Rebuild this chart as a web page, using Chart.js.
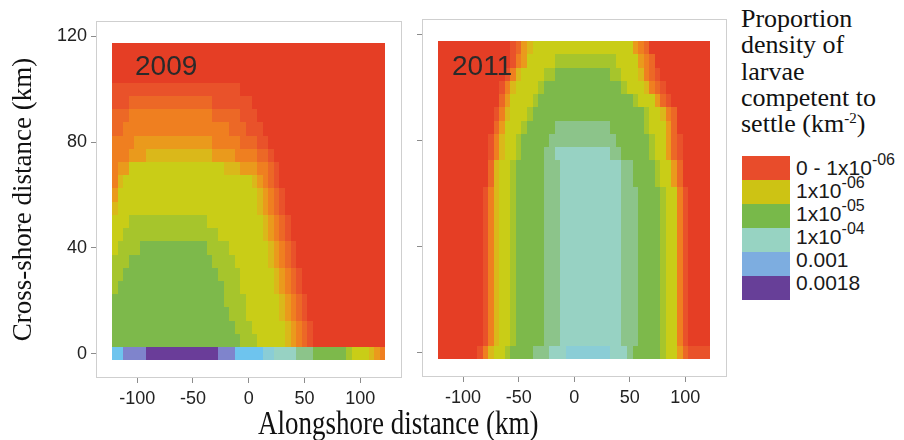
<!DOCTYPE html>
<html>
<head>
<meta charset="utf-8">
<script src="https://cdn.jsdelivr.net/npm/chart.js@4.4.1/dist/chart.umd.min.js"></script>
<style>
  body { margin: 0; background: #fff; }
  #wrap { position: relative; width: 904px; height: 440px; overflow: hidden; background: #fff; }
  #wrap canvas { position: absolute; top: 0; }
  #map2009 { left: 0; }
  #map2011 { left: 412px; }
  #xTitle { position: absolute; left: 258px; top: 412px; font: 27px 'Liberation Serif', 'Times New Roman', serif;
            line-height: 27px; white-space: nowrap; color: #111; transform: scaleY(1.22); transform-origin: 0 23px; }
  #legendTitle { position: absolute; left: 741px; top: 6px; font: 26px 'Liberation Serif', 'Times New Roman', serif;
                 line-height: 26.3px; color: #111; }
  #legendTitle sup { font-size: 15px; vertical-align: 0; position: relative; top: -9px; }
  .swatch { position: absolute; left: 742px; width: 48px; height: 24px; }
  .lab { position: absolute; left: 796px; font: 21px 'Liberation Sans', Arial, sans-serif; line-height: 21px;
         color: #1a1a1a; white-space: nowrap; }
  .lab span { font-size: 16px; position: relative; top: -10px; }
</style>
</head>
<body>
<div id="wrap">
  <canvas id="map2009" width="412" height="440"></canvas>
  <canvas id="map2011" width="320" height="440"></canvas>
  <div id="xTitle">Alongshore distance (km)</div>
  <div id="legendTitle">Proportion<br>density of<br>larvae<br>competent to<br>settle (km<sup>-2</sup>)</div>
</div>
<script>
// cell centres (km)
const xCenters = [-120, -115, -110, -105, -100, -95, -90, -85, -80, -75, -70, -65, -60, -55, -50, -45, -40,
  -35, -30, -25, -20, -15, -10, -5, 0, 5, 10, 15, 20, 25, 30, 35, 40, 45, 50, 55, 60, 65, 70, 75, 80, 85,
  90, 95, 100, 105, 110, 115, 120];
const yCenters = [0, 5, 10, 15, 20, 25, 30, 35, 40, 45, 50, 55, 60, 65, 70, 75, 80, 85, 90, 95, 100, 105, 110, 115];

// colour level of each cell, one string per row (first string = 0 km), one char per column
// 0 = red ... 6 = yellow, 8 = green, a = teal, c = light blue, e = purple
const density2009 = [
  'ccddddeeee eeeeeeeeed ddcccccbba aaa9998888 887666543',
  '8888888888 8888888888 8887776666 6543210000 000000000',
  '8888888888 8888888888 8877766666 6543210000 000000000',
  '8888888888 8888888888 8777666666 5432100000 000000000',
  '8888888888 8888888888 7777666666 5432100000 000000000',
  '7888888888 8888888888 7776666665 4321000000 000000000',
  '7788888888 8888888887 7776666665 4321000000 000000000',
  '7778888888 8888888877 7766666654 3210000000 000000000',
  '6777788888 8888888777 7666666654 3210000000 000000000',
  '6677777777 7777777776 6666666543 2100000000 000000000',
  '6667777777 7777777666 6666666543 2100000000 000000000',
  '5666666666 6666666666 6666665432 1000000000 000000000',
  '4666666666 6666666666 6666665432 1000000000 000000000',
  '3566666666 6666666666 6666654321 0000000000 000000000',
  '3446666666 6666666666 5554443321 0000000000 000000000',
  '3334445555 5555555544 4433332210 0000000000 000000000',
  '3333444444 4444444433 3332221100 0000000000 000000000',
  '2233333333 3333333333 3222111000 0000000000 000000000',
  '2223333333 3333333322 2221110000 0000000000 000000000',
  '1112222222 2222222211 1111100000 0000000000 000000000',
  '1111111111 1111111111 1110000000 0000000000 000000000',
  '0000000000 0000000000 0000000000 0000000000 000000000',
  '0000000000 0000000000 0000000000 0000000000 000000000',
  '0000000000 0000000000 0000000000 0000000000 000000000'
];
const density2011 = [
  '0000000135 6678888999 aaabbbbbbb baaa988888 766421111',
  '0000000013 5667888889 99aaaaaaaa aaa9998888 766310000',
  '0000000013 5667888889 99aaaaaaaa aaa9998888 766310000',
  '0000000013 5667888889 99aaaaaaaa aaa9998888 766310000',
  '0000000013 5667888889 99aaaaaaaa aaa9998888 766310000',
  '0000000013 5667888889 99aaaaaaaa aaa9998888 766310000',
  '0000000013 5667888889 99aaaaaaaa aaa9998888 766310000',
  '0000000013 5667888889 99aaaaaaaa aaa9998888 766310000',
  '0000000013 5667888889 99aaaaaaaa aaa9998888 766310000',
  '0000000013 5667888889 99aaaaaaaa aaa9998888 766310000',
  '0000000013 5667888889 99aaaaaaaa aaa9998888 766310000',
  '0000000013 5667888889 99aaaaaaaa aaa9998888 766310000',
  '0000000013 5667888889 99aaaaaaaa aaa9998888 766310000',
  '0000000002 5667888889 99aaaaaaaa aaa9988887 664200000',
  '0000000002 5667888889 99aaaaaaaa aaa9988887 664200000',
  '0000000001 3566788889 9aaaaaaaaa a998888876 642100000',
  '0000000001 3566788888 9999999999 9988888876 642100000',
  '0000000000 2466678888 8999999999 9888888766 642000000',
  '0000000000 1356667888 8888888888 8888888766 532000000',
  '0000000000 0246666788 8888888888 8888876664 210000000',
  '0000000000 0135666678 8888888888 8887666532 100000000',
  '0000000000 0013566667 7888888888 8776665321 000000000',
  '0000000000 0001346666 6777777777 7766664320 000000000',
  '0000000000 0001245666 6666666666 6666643200 000000000'
];

const levelColors = ['#e53e25', '#e9522a', '#ec6826', '#ef7f20', '#ea9a1c', '#dab81a', '#c9cd17', '#a6c52c',
  '#7db94b', '#8cc48a', '#97d2c3', '#8acdd6', '#6ec4ee', '#7f84cc', '#6a3d99'];

const xTicks = [-100, -50, 0, 50, 100];
const yTicks = [0, 40, 80, 120];

const legendColors = ['#e84c2b', '#cdc314', '#78b94a', '#97d3c2', '#7dade0', '#673f98'];
const legendLabels = ['0 - 1x10', '1x10', '1x10', '1x10', '0.001', '0.0018'];
const legendPowers = ['-06', '-06', '-05', '-04', '', ''];

// legend
const wrap = document.getElementById('wrap');
legendColors.forEach((c, i) => {
  const sw = document.createElement('div');
  sw.className = 'swatch';
  sw.style.top = (156 + 24 * i) + 'px';
  sw.style.background = c;
  wrap.appendChild(sw);
  const lab = document.createElement('div');
  lab.className = 'lab';
  lab.style.top = (157 + 23 * i) + 'px';
  lab.textContent = legendLabels[i];
  if (legendPowers[i]) {
    const sp = document.createElement('span');
    sp.textContent = legendPowers[i];
    lab.appendChild(sp);
  }
  wrap.appendChild(lab);
});

function toCells(rows) {
  const cells = [];
  rows.forEach((row, j) => {
    const r = row.replace(/ /g, '');
    if (r.length !== xCenters.length) console.error('row', j, 'has', r.length, 'cells');
    for (let i = 0; i < r.length; i++) {
      cells.push({ x: xCenters[i], y: yCenters[j], v: parseInt(r[i], 36) });
    }
  });
  return cells;
}

const heatCells = {
  id: 'heatCells',
  beforeDraw(chart) {
    const { ctx, chartArea: a } = chart;
    ctx.save();
    ctx.fillStyle = '#fff';
    ctx.fillRect(a.left, a.top, a.right - a.left, a.bottom - a.top);
    ctx.strokeStyle = '#cfcfcf';
    ctx.lineWidth = 1;
    ctx.strokeRect(a.left + 0.5, a.top + 0.5, a.right - a.left - 1, a.bottom - a.top - 1);
    ctx.restore();
  },
  beforeDatasetsDraw(chart) {
    const { ctx, scales: { x, y } } = chart;
    ctx.save();
    chart.data.datasets[0].data.forEach(p => {
      const l = Math.round(x.getPixelForValue(p.x - 2.5));
      const r = Math.round(x.getPixelForValue(p.x + 2.5));
      const t = Math.round(y.getPixelForValue(p.y + 2.5));
      const b = Math.round(y.getPixelForValue(p.y - 2.5));
      ctx.fillStyle = levelColors[p.v];
      ctx.fillRect(l, t, r - l, b - t);
    });
    ctx.restore();
  },
  afterDatasetsDraw(chart, args, opts) {
    const { ctx, chartArea: a } = chart;
    ctx.save();
    ctx.font = "28px 'Liberation Sans', Arial, sans-serif";
    ctx.fillStyle = '#2a2a2a';
    ctx.textBaseline = 'alphabetic';
    ctx.fillText(opts.label, a.left + opts.dx, 75);
    ctx.restore();
  }
};

function makeMap(id, rows, label, o) {
  return new Chart(document.getElementById(id), {
    type: 'scatter',
    data: { datasets: [{ data: toCells(rows), pointRadius: 0, pointHoverRadius: 0 }] },
    plugins: [heatCells],
    options: {
      responsive: false,
      animation: false,
      events: [],
      layout: { padding: { top: o.top, right: o.right, left: 0, bottom: 0 } },
      plugins: {
        legend: { display: false },
        tooltip: { enabled: false },
        heatCells: { label: label, dx: o.dx }
      },
      scales: {
        x: {
          type: 'linear', min: -137, max: 137.5,
          afterBuildTicks: s => { s.ticks = xTicks.map(v => ({ value: v })); },
          afterFit: s => { s.height = o.xh; },
          ticks: { color: '#222', padding: 5, maxRotation: 0, font: { size: 18 } },
          grid: { display: true, drawOnChartArea: false, drawTicks: true, tickLength: 5, color: '#8c8c8c' },
          border: { display: false }
        },
        y: {
          type: 'linear', min: -9.2, max: 125.8,
          afterBuildTicks: s => { s.ticks = yTicks.map(v => ({ value: v })); },
          afterFit: s => { s.width = o.yw; },
          ticks: { display: o.yLabels, color: '#222', padding: 4, font: { size: 18 } },
          grid: { display: true, drawOnChartArea: false, drawTicks: true, tickLength: 5, color: '#8c8c8c' },
          border: { display: false },
          title: {
            display: o.yLabels, text: 'Cross-shore distance (km)', color: '#111',
            font: { family: "'Liberation Serif', 'Times New Roman', serif", size: 27 },
            padding: { top: 8, bottom: 0 }
          }
        }
      }
    }
  });
}

Chart.defaults.font.family = "'Liberation Sans', Arial, sans-serif";

makeMap('map2009', density2009, '2009', { top: 21, right: 10, xh: 62, yw: 96, yLabels: true, dx: 39 });
makeMap('map2011', density2011, '2011', { top: 19, right: 5, xh: 63, yw: 10, yLabels: false, dx: 30 });
</script>
</body>
</html>
